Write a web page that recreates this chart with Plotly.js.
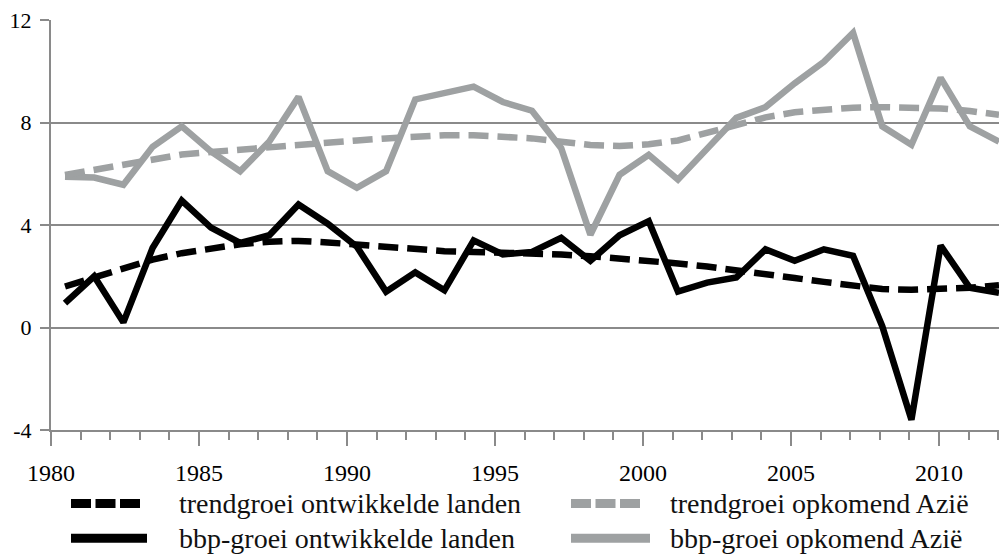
<!DOCTYPE html>
<html>
<head>
<meta charset="utf-8">
<script src="https://cdn.plot.ly/plotly-3.0.1.min.js"></script>
<style>html,body{margin:0;padding:0;background:#fff;}#chart{width:999px;height:554px;}</style>
</head>
<body>
<div id="chart"></div>
<script>
var years = [1980,1981,1982,1983,1984,1985,1986,1987,1988,1989,1990,1991,1992,1993,1994,1995,1996,1997,1998,1999,2000,2001,2002,2003,2004,2005,2006,2007,2008,2009,2010,2011,2012];

var bbpOntwikkeld = [0.95,2.0,0.2,3.1,4.95,3.9,3.3,3.6,4.8,4.05,3.15,1.4,2.15,1.45,3.4,2.85,2.95,3.5,2.6,3.6,4.15,1.4,1.75,1.95,3.05,2.6,3.05,2.8,0.05,-3.6,3.2,1.55,1.35];
var trendOntwikkeld = [1.6,1.95,2.3,2.65,2.9,3.1,3.25,3.35,3.38,3.32,3.22,3.12,3.05,2.98,2.95,2.93,2.9,2.85,2.78,2.7,2.62,2.5,2.38,2.25,2.1,1.93,1.78,1.62,1.5,1.47,1.48,1.55,1.65];
var bbpAzie = [5.88,5.85,5.57,7.05,7.85,6.87,6.1,7.26,9.0,6.1,5.45,6.1,8.9,9.12,9.4,8.8,8.46,7.0,3.62,5.96,6.74,5.77,6.94,8.18,8.6,9.53,10.37,11.5,7.85,7.13,9.74,7.85,7.25];
var trendAzie = [5.95,6.15,6.4,6.6,6.75,6.85,6.95,7.05,7.15,7.22,7.3,7.38,7.45,7.5,7.5,7.45,7.38,7.25,7.12,7.08,7.15,7.3,7.6,7.95,8.2,8.4,8.52,8.58,8.6,8.6,8.55,8.45,8.3];

var seriesNames = ['trendgroei ontwikkelde landen','trendgroei opkomend Azië','bbp-groei ontwikkelde landen','bbp-groei opkomend Azië'];
var yTicks = [-4,0,4,8,12];
var xTickLabels = ['1980','1985','1990','1995','2000','2005','2010'];

var BLACK = '#000000', GREY = '#9ea1a2', GRID = '#8a8a8a';
var DASH = '20px,9px';
var FONT = 'Liberation Serif';

var traces = [
  {x: years, y: bbpOntwikkeld, name: seriesNames[2], mode:'lines', line:{color:BLACK, width:6.5}, showlegend:false},
  {x: years, y: bbpAzie, name: seriesNames[3], mode:'lines', line:{color:GREY, width:6.5}, showlegend:false},
  {x: years, y: trendOntwikkeld, name: seriesNames[0], mode:'lines', line:{color:BLACK, width:6.5, dash:DASH}, showlegend:false},
  {x: years, y: trendAzie, name: seriesNames[1], mode:'lines', line:{color:GREY, width:6.5, dash:DASH}, showlegend:false}
];

// plot area in pixels
var L = 51, R = 999, T = 20, B = 430.5;
function px(v){ return (v - L) / (R - L); }
function py(v){ return (B - v) / (B - T); }

// category axis: points spaced slightly tighter than the tick marks (as in the source)
var X0 = 1979.52, X1 = 2012.0;
var tickStep = 29.6 / ((R - L) / (X1 - X0)); // tick spacing in data units
var majorVals = [], minorVals = [];
for (var k = 0; k <= 32; k++) {
  var v = X0 + k * tickStep;
  if (v > X1) break;
  if (k % 5 === 0) majorVals.push(v); else minorVals.push(v);
}

var legendRows = [504, 539];
var legendItems = [
  {name: seriesNames[0], color: BLACK, dash: '20px,4.5px', x0: 71, x1: 140, tx: 177, row: 0},
  {name: seriesNames[1], color: GREY,  dash: '20px,4.5px', x0: 571, x1: 643, tx: 668, row: 0},
  {name: seriesNames[2], color: BLACK, dash: 'solid', x0: 71, x1: 147, tx: 177, row: 1},
  {name: seriesNames[3], color: GREY,  dash: 'solid', x0: 571, x1: 650, tx: 668, row: 1}
];
var shapes = [], annotations = [];
legendItems.forEach(function(it){
  var yy = py(legendRows[it.row]);
  shapes.push({type:'line', xref:'paper', yref:'paper', x0:px(it.x0), x1:px(it.x1), y0:yy, y1:yy,
               line:{color:it.color, width:9, dash:it.dash}});
  annotations.push({xref:'paper', yref:'paper', x:px(it.tx), y:yy, xanchor:'left', yanchor:'middle',
                    text: it.name, showarrow:false, font:{family:FONT, size:28, color:'#111'}});
});

var layout = {
  width: 999, height: 554,
  margin: {l: L, r: 0, t: T, b: 554 - B},
  paper_bgcolor: '#fff', plot_bgcolor: '#fff',
  showlegend: false,
  font: {family: FONT, color: '#000'},
  xaxis: {
    range: [X0, X1],
    tickmode: 'array', tickvals: majorVals, ticktext: xTickLabels.slice(0, majorVals.length),
    ticks: 'outside', ticklen: 14, tickwidth: 2, tickcolor: GRID,
    minor: {tickmode: 'array', tickvals: minorVals, ticks: 'outside', ticklen: 8, tickwidth: 2, tickcolor: GRID, showgrid: false},
    showline: true, linecolor: GRID, linewidth: 2,
    showgrid: false, zeroline: false,
    ticklabelstandoff: 6,
    tickfont: {family: FONT, size: 24, color: '#000'}
  },
  yaxis: {
    range: [-4, 12], tickmode: 'array', tickvals: yTicks, ticktext: yTicks.map(String),
    ticks: 'outside', ticklen: 9, tickwidth: 2, tickcolor: GRID,
    showline: true, linecolor: GRID, linewidth: 2,
    showgrid: true, gridcolor: GRID, gridwidth: 2, zeroline: false,
    ticklabelstandoff: 4,
    tickfont: {family: FONT, size: 22, color: '#000'}
  },
  shapes: shapes,
  annotations: annotations
};

Plotly.newPlot('chart', traces, layout, {displayModeBar: false, staticPlot: true});
</script>
</body>
</html>
